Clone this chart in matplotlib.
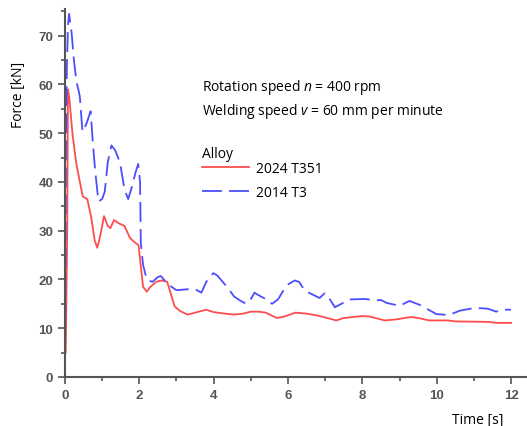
import matplotlib
matplotlib.use('Agg')
import matplotlib.pyplot as plt
from matplotlib.ticker import MultipleLocator

# 2024 T351 (solid red)
t_2024 = [0.02, 0.04, 0.06, 0.08, 0.12, 0.2, 0.3, 0.4, 0.48, 0.6, 0.7, 0.8, 0.87, 0.95,
          1.05, 1.15, 1.22, 1.32, 1.45, 1.6, 1.75, 1.85, 1.98, 2.05, 2.1, 2.2, 2.3, 2.45,
          2.6, 2.75, 2.85, 2.95, 3.1, 3.3, 3.5, 3.8, 4.0, 4.3, 4.55, 4.8, 5.0, 5.2, 5.4,
          5.7, 5.9, 6.2, 6.5, 6.8, 7.1, 7.3, 7.5, 8.0, 8.2, 8.6, 8.9, 9.3, 9.5, 9.8, 10.3,
          10.5, 11.4, 11.6, 12.0]
f_2024 = [5, 17, 30, 59, 57, 50, 44, 40, 37, 36.5, 33, 28, 26.5, 29,
          33, 31, 30.5, 32.2, 31.5, 31, 28.5, 27.8, 27, 22, 18.5, 17.5, 18.5, 19.5,
          19.8, 19.5, 17, 14.5, 13.5, 12.8, 13.2, 13.8, 13.3, 13.0, 12.8, 13.0, 13.4, 13.4, 13.2,
          12.1, 12.4, 13.2, 13.0, 12.6, 12.0, 11.6, 12.1, 12.5, 12.4, 11.6, 11.8, 12.3, 12.1, 11.6, 11.6,
          11.4, 11.3, 11.1, 11.1]

# 2014 T3 (dashed blue)
t_2014 = [0.0, 0.03, 0.05, 0.08, 0.11, 0.18, 0.24, 0.31, 0.36, 0.4, 0.47, 0.58, 0.69, 0.75,
          0.81, 0.9, 1.0, 1.07, 1.15, 1.25, 1.35, 1.48, 1.6, 1.7, 1.8, 1.9, 1.97, 2.02, 2.04,
          2.1, 2.2, 2.35, 2.5, 2.58, 2.77, 3.0, 3.3, 3.5, 3.67, 3.8, 3.99, 4.1, 4.39, 4.55,
          4.75, 4.88, 5.0, 5.1, 5.2, 5.47, 5.57, 5.73, 5.96, 6.18, 6.3, 6.45, 6.85, 6.99, 7.12,
          7.26, 7.66, 8.06, 8.38, 8.5, 8.65, 9.0, 9.27, 9.54, 9.78, 9.99, 10.33, 10.62, 10.98,
          11.2, 11.38, 11.6, 11.78, 12.0]
f_2014 = [0, 50, 63, 72, 74.5, 70.5, 65, 60.5, 59, 57.5, 50.3, 52, 54.5, 48,
          42.5, 36, 36.5, 38, 44, 47.5, 46.5, 44, 38.5, 36.5, 39, 42, 43.7, 40, 27.5,
          23, 20, 19.5, 20.5, 20.7, 19, 17.8, 18, 18, 17.3, 19.5, 21.3, 20.8, 18.2, 16.5,
          15.5, 15, 16, 17.3, 16.8, 15.7, 15, 15.9, 18.8, 19.8, 19.5, 17.7, 16.2, 17.2, 16,
          14.3, 15.9, 16, 15.7, 15.8, 15.2, 14.6, 15.6, 14.8, 13.8, 12.9, 12.7, 13.6, 14.1,
          14.1, 14, 13.4, 13.8, 13.8]

text_font = 'Open Sans'
plt.rcParams['mathtext.fontset'] = 'custom'
plt.rcParams['mathtext.rm'] = text_font
plt.rcParams['mathtext.it'] = text_font + ':italic'

fig = plt.figure(figsize=(5.27, 4.27), dpi=100)
ax = fig.add_axes([0.1233, 0.1148, 0.8767, 0.862])

ax.plot(t_2024, f_2024, color='#ff4d4d', lw=1.3, label='2024 T351')
ax.plot(t_2014, f_2014, color='#4d4dff', lw=1.3, dashes=(11, 4), label='2014 T3')

ax.set_xlim(0, 12.43)
ax.set_ylim(0, 75.5)
ax.xaxis.set_major_locator(MultipleLocator(2))
ax.xaxis.set_minor_locator(MultipleLocator(1))
ax.yaxis.set_major_locator(MultipleLocator(10))
ax.yaxis.set_minor_locator(MultipleLocator(5))

for s in ['top', 'right']:
    ax.spines[s].set_visible(False)
for s in ['left', 'bottom']:
    ax.spines[s].set_color('#555555')
    ax.spines[s].set_linewidth(1.5)

ax.tick_params(which='major', direction='out', length=5, width=1.2, color='#555555',
               labelcolor='#555555', labelsize=9.5)
ax.tick_params(which='minor', direction='out', length=3, width=1.2, color='#555555')
for lab in ax.get_xticklabels() + ax.get_yticklabels():
    lab.set_fontfamily('Liberation Sans')
    lab.set_fontweight('bold')

ax.set_ylabel('Force [kN]', fontsize=10, family=text_font)
ax.yaxis.set_label_coords(-0.085, 0.77)
ax.set_xlabel('Time [s]', fontsize=10, family=text_font)
ax.xaxis.set_label_coords(0.894, -0.095)

ax.text(0.297, 0.79, 'Rotation speed $n$ = 400 rpm', transform=ax.transAxes,
        fontsize=10, family=text_font, va='center')
ax.text(0.297, 0.725, 'Welding speed $v$ = 60 mm per minute', transform=ax.transAxes,
        fontsize=10, family=text_font, va='center')
ax.text(0.297, 0.606, 'Alloy', transform=ax.transAxes,
        fontsize=10, family=text_font, va='center')

leg = ax.legend(loc='upper left', bbox_to_anchor=(0.27, 0.62),
                frameon=False, handlelength=3.4, handletextpad=0.45, labelspacing=0.6,
                prop={'family': text_font, 'size': 10})

fig.savefig('out.png', dpi=100)
